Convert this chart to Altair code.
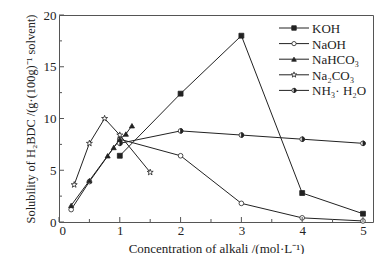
import altair as alt
import pandas as pd

# ---- data ----
koh_x = [1.0, 2, 3, 4, 5]
koh_y = [6.4, 12.4, 18.0, 2.8, 0.8]
naoh_x = [0.2, 0.5, 1.0, 2, 3, 4, 5]
naoh_y = [1.2, 3.9, 8.0, 6.4, 1.8, 0.4, 0.1]
nahco3_x = [0.2, 0.5, 0.8, 0.9, 1.0, 1.1, 1.2]
nahco3_y = [1.6, 4.0, 6.4, 7.2, 8.0, 8.5, 9.3]
na2co3_x = [0.25, 0.5, 0.75, 1.0, 1.5]
na2co3_y = [3.6, 7.6, 10.0, 8.4, 4.8]
nh3_x = [1.0, 2, 3, 4, 5]
nh3_y = [7.6, 8.8, 8.4, 8.0, 7.6]

series_names = ["KOH", "NaOH", "NaHCO₃", "Na₂CO₃", "NH₃· H₂O"]
x_major = [0, 1, 2, 3, 4, 5]
x_minor = [0.5, 1.5, 2.5, 3.5, 4.5]
y_major = [0, 5, 10, 15, 20]
y_minor = [2.5, 7.5, 12.5, 17.5]

W, H = 314, 207
INK = "#222222"
FRAME = "#555555"
FONT = "Liberation Serif"

def frame(name, xs, ys):
    return pd.DataFrame({"x": xs, "y": ys, "s": name, "o": range(len(xs))})

df = pd.concat([
    frame("KOH", koh_x, koh_y),
    frame("NaOH", naoh_x, naoh_y),
    frame("NaHCO3", nahco3_x, nahco3_y),
    frame("Na2CO3", na2co3_x, na2co3_y),
    frame("NH3", nh3_x, nh3_y),
])

xs = alt.Scale(domain=[0, 5.165], nice=False, zero=False)
ys = alt.Scale(domain=[0, 20], nice=False)

AX = dict(ticks=False, domain=False, grid=False, labelFont=FONT, labelFontSize=13,
          labelColor=INK, titleFont=FONT, titleFontWeight="normal", titleColor=INK)
X = alt.X("x:Q", scale=xs, axis=alt.Axis(values=x_major, format="d", labelPadding=2,
          title="Concentration of  alkali /(mol·L⁻¹)", titleFontSize=13, titlePadding=5, **AX))
Y = alt.Y("y:Q", scale=ys, axis=alt.Axis(values=y_major, format="d", labelPadding=3,
          title="Solubility of H₂BDC /(g·(100g)⁻¹ solvent)", titleFontSize=12.4, titlePadding=6, **AX))

base = alt.Chart(df)
lines = base.mark_line(color=INK, strokeWidth=1).encode(x=X, y=Y, detail="s:N", order="o:Q")

def pts(name, shape, filled, size=22):
    return alt.Chart(df).transform_filter(alt.datum.s == name).mark_point(
        shape=shape, filled=filled, color=INK, fill=INK if filled else "white",
        stroke=INK, strokeWidth=0.8, size=size, opacity=1).encode(x=X, y=Y)

STAR = "M0,-1L0.235,-0.324L0.951,-0.309L0.38,0.124L0.588,0.809L0,0.4L-0.588,0.809L-0.38,0.124L-0.951,-0.309L-0.235,-0.324Z"
HALF = "M0,-1A1,1 0 0 1 0,1Z"

p_koh = pts("KOH", "square", True, 24)
p_naoh = pts("NaOH", "circle", False, 22)
p_nahco3 = pts("NaHCO3", "triangle-up", True, 26)
p_na2co3 = pts("Na2CO3", STAR, False, 40)
p_nh3a = pts("NH3", "circle", False, 22)
p_nh3b = pts("NH3", HALF, True, 22)

# ticks drawn inward
tx = pd.DataFrame({"x": x_major + x_minor, "len": [5] * len(x_major) + [3] * len(x_minor)})
ty = pd.DataFrame({"y": y_major + y_minor, "len": [5] * len(y_major) + [3] * len(y_minor)})
xt = alt.Chart(tx).transform_calculate(y0=str(H), y1=f"{H} - datum.len").mark_rule(
    color=FRAME, strokeWidth=1).encode(x=X, y=alt.Y("y0:Q", scale=None), y2=alt.Y2("y1:Q"))
yt = alt.Chart(ty).transform_calculate(x0="0", x1="datum.len").mark_rule(
    color=FRAME, strokeWidth=1).encode(y=Y, x=alt.X("x0:Q", scale=None), x2=alt.X2("x1:Q"))

# manual legend
leg = pd.DataFrame({"name": series_names, "i": list(range(5))})
ROW0, STEP = 13, 15.6
lx0, lx1, lxm, ltx = 220, 250, 235, 253
leg_base = alt.Chart(leg).transform_calculate(ly=f"{ROW0} + datum.i * {STEP}")
leg_lines = leg_base.mark_rule(color=INK, strokeWidth=1).encode(
    x=alt.value(lx0), x2=alt.value(lx1), y=alt.Y("ly:Q", scale=None))
leg_text = leg_base.mark_text(align="left", baseline="middle", font=FONT, fontSize=13,
                              color=INK, dy=1).encode(
    x=alt.value(ltx), y=alt.Y("ly:Q", scale=None), text="name:N")

def leg_pt(i, shape, filled, size):
    return leg_base.transform_filter(alt.datum.i == i).mark_point(
        shape=shape, filled=filled, color=INK, fill=INK if filled else "white",
        stroke=INK, strokeWidth=0.8, size=size, opacity=1).encode(
        x=alt.value(lxm), y=alt.Y("ly:Q", scale=None))

legend_pts = [leg_pt(0, "square", True, 20), leg_pt(1, "circle", False, 18),
              leg_pt(2, "triangle-up", True, 22), leg_pt(3, STAR, False, 34),
              leg_pt(4, "circle", False, 18), leg_pt(4, HALF, True, 18)]

chart = alt.layer(lines, p_naoh, p_nh3a, p_nh3b, p_na2co3, p_nahco3, p_koh, xt, yt,
                  leg_lines, leg_text, *legend_pts).properties(
    width=W, height=H,
    autosize=alt.AutoSizeParams(type="none"),
    padding={"left": 51, "top": 7, "right": 3, "bottom": 32},
    background="white",
).configure_view(stroke=FRAME, strokeWidth=1).configure_text(font=FONT)

chart.save("out.html", embed_options={"renderer": "svg", "actions": False})
